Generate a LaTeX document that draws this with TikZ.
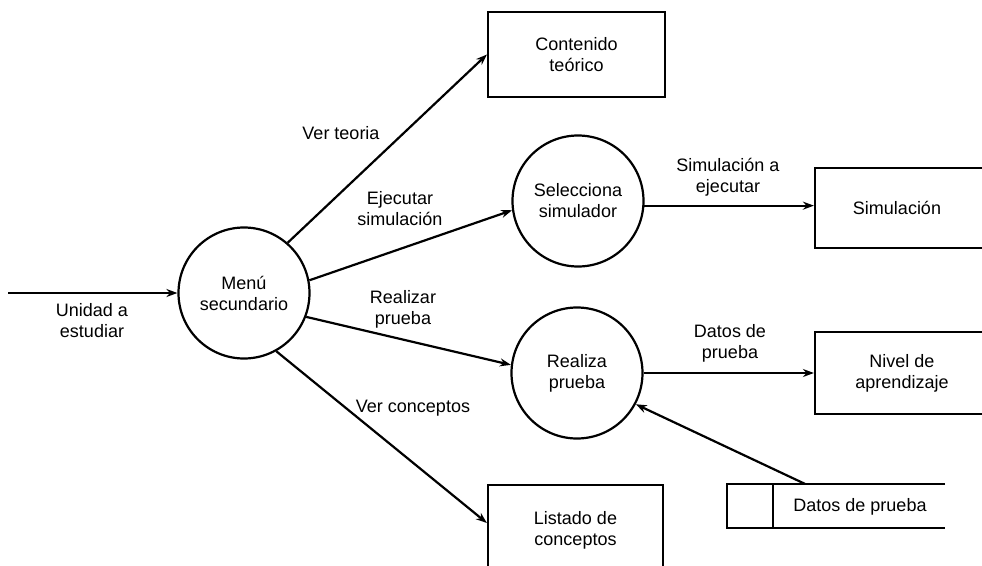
\documentclass[tikz,border=0pt]{standalone}
\usepackage{fontspec}
\setmainfont{Liberation Sans}
\usetikzlibrary{arrows.meta}
\begin{document}
\begin{tikzpicture}[x=1pt,y=-1pt,
  every node/.style={font=\fontsize{18}{21}\selectfont, align=center},
  proc/.style={draw, circle, line width=2.2pt, minimum size=131pt, inner sep=0pt},
  entity/.style={draw, rectangle, line width=2.2pt, inner sep=0pt},
  flow/.style={line width=2.2pt, -{Stealth[length=11pt,width=8pt]}},
  lbl/.style={inner sep=1pt}
]
\useasboundingbox (0,0) rectangle (982,565);
\clip (0,0) rectangle (982,565);

% processes
\node[proc] (menu) at (244,293) {Menú\\secundario};
\node[proc] (sel)  at (578,201) {Selecciona\\simulador};
\node[proc] (rea)  at (577,373) {Realiza\\prueba};

% external entities (the right-hand ones run past the edge)
\node[entity, minimum width=177pt, minimum height=85pt] (cont) at (576.5,54.5) {Contenido\\teórico};
\node[entity, minimum width=220pt, minimum height=80pt] (sim) at (925,208) {};
\node[lbl] (simtxt) at (897,208) {Simulación};
\node[entity, minimum width=220pt, minimum height=82pt] (niv) at (925,373) {};
\node[lbl] (nivtxt) at (902,373) {Nivel de\\aprendizaje};
\node[entity, minimum width=175pt, minimum height=90pt] (lst) at (575.5,530) {Listado de\\conceptos};

% data store
\node[minimum width=218pt, minimum height=44pt, inner sep=0pt] (store) at (836,506) {};
\draw[line width=2.2pt] (store.north east) -- (store.north west) -- (store.south west) -- (store.south east);
\draw[line width=2.2pt] ([xshift=46pt]store.north west) -- ([xshift=46pt]store.south west);
\node[lbl] (storetxt) at (860,507) {Datos de prueba};

% flows
\coordinate (src) at (8,293);
\draw[flow] (src) -- (menu.west);
\draw[flow] (menu.49) -- (cont.west);
\draw[flow] (menu.11) -- (sel.188);
\draw[flow] (menu.339) -- (rea.173);
\draw[flow] (menu.299) -- ([yshift=7pt]lst.west);
\draw[flow] (sel.-4) -- (sel.-4 -| sim.west);
\draw[flow] (rea.east) -- (rea.east -| niv.west);
\draw[flow] ([xshift=78pt]store.north west) -- (rea.332);

% flow labels
\node[lbl] (l1) at (92,321) {Unidad a\\estudiar};
\node[lbl] (l2) at (341,133) {Ver teoria};
\node[lbl] (l3) at (400,209) {Ejecutar\\simulación};
\node[lbl] (l4) at (403,309) {Realizar\\prueba};
\node[lbl] (l5) at (413,408) {Ver conceptos};
\node[lbl] (l6) at (728,177) {Simulación a\\ejecutar};
\node[lbl] (l7) at (730,343) {Datos de\\prueba};
\end{tikzpicture}
\end{document}
